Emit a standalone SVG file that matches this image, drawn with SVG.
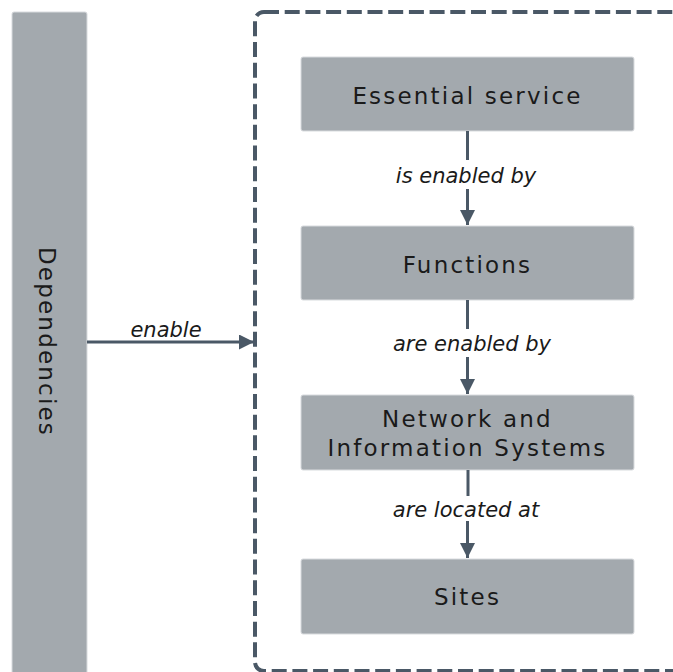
<svg xmlns="http://www.w3.org/2000/svg" width="673" height="672" viewBox="0 0 673 672">
  <defs>
    <marker id="arrow" viewBox="0 0 10 10" refX="10" refY="5" markerWidth="5" markerHeight="5" orient="auto" markerUnits="strokeWidth">
      <path d="M0,0 L10,5 L0,10 z" fill="#4a5866"/>
    </marker>
    <style>
      .box { fill: #a3a9ae; stroke: #d8dbde; stroke-width: 1; }
      .label { font-family: "DejaVu Sans", Verdana, sans-serif; font-size: 23px; fill: #1a1a1a; text-anchor: middle; letter-spacing: 2.2px; }
      .edge { stroke: #4a5866; stroke-width: 3; fill: none; marker-end: url(#arrow); }
      .elabel { font-family: "DejaVu Sans", Verdana, sans-serif; font-size: 21px; font-style: italic; fill: #1a1a1a; text-anchor: middle; }
    </style>
  </defs>
  <rect width="673" height="672" fill="#ffffff"/>

  <g id="dependencies">
    <rect class="box" x="12" y="12" width="75" height="670" rx="2"/>
    <text class="label" transform="translate(39,342) rotate(90)">Dependencies</text>
  </g>

  <g id="scope">
    <rect x="255" y="12" width="440" height="659" rx="9" fill="none" stroke="#4a5866" stroke-width="4" stroke-dasharray="15,5.7"/>
  </g>

  <g id="essential-service">
    <rect class="box" x="301" y="57" width="333" height="74" rx="2"/>
    <text class="label" x="467.5" y="104">Essential service</text>
  </g>

  <g id="functions">
    <rect class="box" x="301" y="226" width="333" height="74" rx="2"/>
    <text class="label" x="467.5" y="273">Functions</text>
  </g>

  <g id="nis">
    <rect class="box" x="301" y="395" width="333" height="75" rx="2"/>
    <text class="label" x="467.5" y="427">Network and</text>
    <text class="label" x="467.5" y="456">Information Systems</text>
  </g>

  <g id="sites">
    <rect class="box" x="301" y="559" width="333" height="75" rx="2"/>
    <text class="label" x="467.5" y="605">Sites</text>
  </g>

  <g id="connectors">
    <line class="edge" x1="87" y1="342" x2="254" y2="342"/>
    <text class="elabel" x="166" y="337">enable</text>

    <line x1="467.5" y1="131" x2="467.5" y2="160" stroke="#4a5866" stroke-width="3"/>
    <line class="edge" x1="467.5" y1="189" x2="467.5" y2="225"/>
    <text class="elabel" x="466" y="183">is enabled by</text>

    <line x1="467.5" y1="300" x2="467.5" y2="329" stroke="#4a5866" stroke-width="3"/>
    <line class="edge" x1="467.5" y1="357" x2="467.5" y2="394"/>
    <text class="elabel" x="472" y="351">are enabled by</text>

    <line x1="468" y1="470" x2="468" y2="496" stroke="#4a5866" stroke-width="3"/>
    <line class="edge" x1="467.5" y1="521" x2="467.5" y2="558"/>
    <text class="elabel" x="466" y="517">are located at</text>
  </g>
</svg>
